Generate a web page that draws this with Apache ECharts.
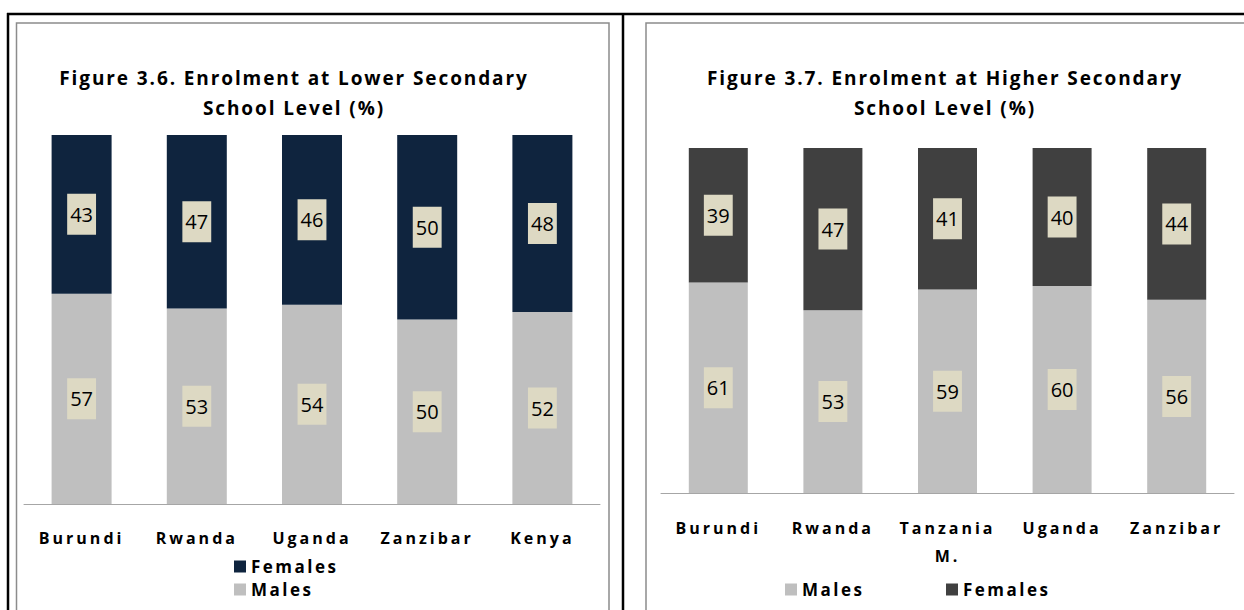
<!DOCTYPE html>
<html>
<head>
<meta charset="utf-8">
<script src="https://cdn.jsdelivr.net/npm/echarts@6/dist/echarts.min.js"></script>
<style>
  html, body { margin: 0; padding: 0; background: #ffffff; }
  #chart { width: 1244px; height: 610px; }
  #chart text[style*="16px"][style*="bold"] { letter-spacing: 3px; }
  #chart text[style*="17px"][style*="bold"] { letter-spacing: 2.5px; }
  #chart text[style*="19px"][style*="bold"] { letter-spacing: 1.9px; }
</style>
</head>
<body>
<div id="chart"></div>
<script>
// ---- Data ----
const lowerCategories = ['Burundi', 'Rwanda', 'Uganda', 'Zanzibar', 'Kenya'];
const lowerMales = [57, 53, 54, 50, 52];
const lowerFemales = [43, 47, 46, 50, 48];

const higherCategories = ['Burundi', 'Rwanda', 'Tanzania\nM.', 'Uganda', 'Zanzibar'];
const higherMales = [61, 53, 59, 60, 56];
const higherFemales = [39, 47, 41, 40, 44];

const lowerTitle = 'Figure 3.6. Enrolment at Lower Secondary\nSchool Level (%)';
const higherTitle = 'Figure 3.7. Enrolment at Higher Secondary\nSchool Level (%)';

// ---- Styles ----
const BOLD_FONT = 'Open Sans';
const NUM_FONT = 'Open Sans';
const COL_MALE = '#BFBFBF';
const COL_FEM_LOW = '#0F243E';
const COL_FEM_HIGH = '#404040';
const LABEL_BG = '#DDD9C3';

const chart = echarts.init(document.getElementById('chart'), null, { renderer: 'svg' });

const barLabel = {
  show: true,
  position: 'inside',
  formatter: '{c}',
  color: '#000000',
  fontFamily: NUM_FONT,
  fontSize: 20,
  lineHeight: 21,
  backgroundColor: LABEL_BG,
  padding: [10, 3]
};

const titleStyle = {
  fontFamily: BOLD_FONT, fontWeight: 'bold', fontSize: 19, color: '#000000', lineHeight: 30
};
const axisLabelStyle = {
  interval: 0, fontFamily: BOLD_FONT, fontWeight: 'bold', fontSize: 16, color: '#000000', lineHeight: 28
};
const legendText = { fontFamily: BOLD_FONT, fontWeight: 'bold', fontSize: 17, color: '#000000', lineHeight: 17 };

const option = {
  backgroundColor: '#ffffff',
  animation: false,
  title: [
    { text: lowerTitle, left: 294, top: 63, textAlign: 'center', padding: 0, textStyle: titleStyle },
    { text: higherTitle, left: 945, top: 63, textAlign: 'center', padding: 0, textStyle: titleStyle }
  ],
  legend: [
    {
      data: ['Females', 'Males'], orient: 'vertical', left: 234, top: 558,
      itemWidth: 12, itemHeight: 12, itemGap: 6, padding: 0,
      icon: 'rect', textStyle: legendText
    },
    {
      data: [{ name: 'Males' }], left: 785, top: 581,
      itemWidth: 12, itemHeight: 12, padding: 0, icon: 'rect', textStyle: legendText
    },
    {
      data: [{ name: 'Females', itemStyle: { color: COL_FEM_HIGH } }], left: 946, top: 581,
      itemWidth: 12, itemHeight: 12, padding: 0, icon: 'rect', textStyle: legendText
    }
  ],
  grid: [
    { left: 24, top: 135, width: 576, height: 369 },
    { left: 661, top: 148, width: 573, height: 345 }
  ],
  xAxis: [
    {
      type: 'category', gridIndex: 0, data: lowerCategories,
      axisLine: { lineStyle: { color: '#A6A6A6', width: 1 } },
      axisTick: { show: false },
      axisLabel: Object.assign({ margin: 20 }, axisLabelStyle)
    },
    {
      type: 'category', gridIndex: 1, data: higherCategories,
      axisLine: { lineStyle: { color: '#A6A6A6', width: 1 } },
      axisTick: { show: false },
      axisLabel: Object.assign({ margin: 21 }, axisLabelStyle)
    }
  ],
  yAxis: [
    { type: 'value', gridIndex: 0, min: 0, max: 100, show: false },
    { type: 'value', gridIndex: 1, min: 0, max: 100, show: false }
  ],
  series: [
    {
      name: 'Males', type: 'bar', stack: 'lower', xAxisIndex: 0, yAxisIndex: 0,
      data: lowerMales, barWidth: 60, itemStyle: { color: COL_MALE }, label: barLabel
    },
    {
      name: 'Females', type: 'bar', stack: 'lower', xAxisIndex: 0, yAxisIndex: 0,
      data: lowerFemales, barWidth: 60, itemStyle: { color: COL_FEM_LOW }, label: barLabel
    },
    {
      name: 'Males', type: 'bar', stack: 'higher', xAxisIndex: 1, yAxisIndex: 1,
      data: higherMales, barWidth: 59, itemStyle: { color: COL_MALE }, label: barLabel
    },
    {
      name: 'Females', type: 'bar', stack: 'higher', xAxisIndex: 1, yAxisIndex: 1,
      data: higherFemales, barWidth: 59, itemStyle: { color: COL_FEM_HIGH }, label: barLabel
    }
  ],
  graphic: [
    // table borders
    { type: 'line', silent: true, shape: { x1: 7, y1: 14, x2: 1244, y2: 14 }, style: { stroke: '#000', lineWidth: 2.5 } },
    { type: 'line', silent: true, shape: { x1: 8, y1: 13, x2: 8, y2: 610 }, style: { stroke: '#000', lineWidth: 2.5 } },
    { type: 'line', silent: true, shape: { x1: 623, y1: 13, x2: 623, y2: 610 }, style: { stroke: '#000', lineWidth: 2.5 } },
    // chart frames
    { type: 'rect', silent: true, shape: { x: 16.5, y: 23, width: 592.5, height: 620 }, style: { fill: 'none', stroke: '#8C8C8C', lineWidth: 1.5 } },
    { type: 'rect', silent: true, shape: { x: 646, y: 23, width: 700, height: 620 }, style: { fill: 'none', stroke: '#8C8C8C', lineWidth: 1.5 } }
  ]
};

chart.setOption(option);
</script>
</body>
</html>
